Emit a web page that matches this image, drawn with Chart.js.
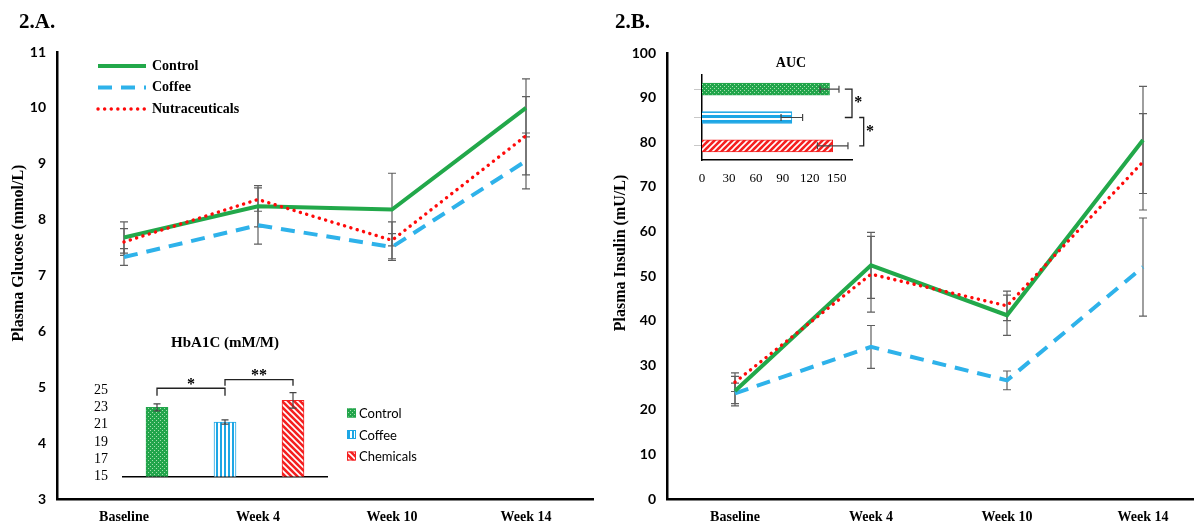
<!doctype html>
<html>
<head>
<title>Plasma glucose and insulin</title>
<script src="https://cdn.jsdelivr.net/npm/chart.js@4.4.1/dist/chart.umd.min.js"></script>
<style>
html, body { margin: 0; padding: 0; background: #fff; overflow: hidden; }
#wrap { position: relative; width: 1194px; height: 527px; overflow: hidden; }
canvas { position: absolute; }
</style>
</head>
<body>
<div id="wrap">
	<canvas id="glucose" width="600" height="527" style="left:0;top:0"></canvas>
	<canvas id="insulin" width="620" height="527" style="left:600px;top:0"></canvas>
	<canvas id="hba1c" width="400" height="180" style="left:60px;top:320px"></canvas>
	<canvas id="auc" width="240" height="160" style="left:650px;top:40px"></canvas>
</div>
<script>
// values
var weeks = ['Baseline', 'Week 4', 'Week 10', 'Week 14'];
var groups = ['Control', 'Coffee', 'Chemicals'];

var glucoseControl = [7.68, 8.24, 8.18, 10.0];
var glucoseCoffee = [7.33, 7.90, 7.51, 9.05];
var glucoseNutra = [7.60, 8.36, 7.63, 9.50];
var glucoseControlErr = [0.28, 0.37, 0.65, 0.52];
var glucoseCoffeeErr = [0.15, 0.34, 0.24, 0.50];
var glucoseNutraErr = [0.24, 0.21, 0.33, 0.70];

var insulinControl = [24.2, 52.4, 41.2, 80.5];
var insulinCoffee = [23.7, 34.1, 26.6, 52.0];
var insulinNutra = [26.2, 50.4, 43.3, 75.6];
var insulinControlErr = [3.3, 7.4, 4.5, 12.0];
var insulinCoffeeErr = [2.3, 4.8, 2.1, 11.0];
var insulinNutraErr = [2.1, 8.5, 3.3, 10.8];

var hba1c = [23.0, 21.3, 23.8];
var hba1cErr = [0.4, 0.25, 0.9];

var auc = [142, 100, 145.5];
var aucErr = [10.5, 12, 17];

var serif = "'Liberation Serif', 'Times New Roman', serif";
var sans = "Lato, 'Liberation Sans', sans-serif";
var green = '#22A84A', blue = '#2EB2EA', red = '#FF0A0A';

function makePattern(kind, fg, bg) {
	var s = kind.indexOf('diag') === 0 ? 6 : 4;
	if (kind === 'hlines') s = 5;
	var c = document.createElement('canvas');
	c.width = s; c.height = s;
	var g = c.getContext('2d');
	g.fillStyle = bg; g.fillRect(0, 0, s, s);
	g.fillStyle = fg; g.strokeStyle = fg; g.lineWidth = 1.6;
	if (kind === 'dots') { g.fillRect(0, 0, 1, 1); g.fillRect(2, 2, 1, 1); }
	else if (kind === 'vlines') g.fillRect(0, 0, 2, s);
	else if (kind === 'hlines') g.fillRect(0, 0, s, 3);
	else if (kind === 'diagDown') {
		g.beginPath();
		g.moveTo(-1, -1); g.lineTo(s + 1, s + 1);
		g.moveTo(-1, s - 1); g.lineTo(1, s + 1);
		g.moveTo(s - 1, -1); g.lineTo(s + 1, 1);
		g.stroke();
	} else if (kind === 'diagUp') {
		g.beginPath();
		g.moveTo(-1, s + 1); g.lineTo(s + 1, -1);
		g.moveTo(-1, 1); g.lineTo(1, -1);
		g.moveTo(s - 1, s + 1); g.lineTo(s + 1, s - 1);
		g.stroke();
	}
	return g.createPattern(c, 'repeat');
}

var pGreen = makePattern('dots', '#A5DFAF', '#22A54B');
var pBlueV = makePattern('vlines', '#1DA6E5', '#ffffff');
var pBlueH = makePattern('hlines', '#1DA6E5', '#ffffff');
var pRedDown = makePattern('diagDown', '#ffffff', '#F52020');
var pRedUp = makePattern('diagUp', '#ffffff', '#F52020');

// free text: panel letters, axis titles, inset titles
var texts = {
	id: 'texts',
	afterDraw: function(chart, args, opts) {
		var ctx = chart.ctx;
		(opts.items || []).forEach(function(t) {
			ctx.save();
			ctx.font = t.font;
			ctx.fillStyle = '#000';
			ctx.textAlign = t.align || 'center';
			ctx.textBaseline = 'middle';
			ctx.translate(t.x, t.y);
			if (t.rotate) ctx.rotate(t.rotate);
			ctx.fillText(t.text, 0, 0);
			ctx.restore();
		});
	}
};

function drawErrors(chart, opts) {
	var ctx = chart.ctx;
	var cap = opts.cap || 4;
	chart.data.datasets.forEach(function(ds, i) {
		if (!ds.errors) return;
		var meta = chart.getDatasetMeta(i);
		var vs = meta.vScale, horiz = vs.isHorizontal();
		ctx.save();
		ctx.strokeStyle = opts.color || '#555';
		ctx.lineWidth = opts.width || 1.2;
		meta.data.forEach(function(el, j) {
			var a = vs.getPixelForValue(ds.data[j] - ds.errors[j]);
			var b = vs.getPixelForValue(ds.data[j] + ds.errors[j]);
			var c = horiz ? el.y : el.x;
			ctx.beginPath();
			if (horiz) {
				ctx.moveTo(a, c); ctx.lineTo(b, c);
				ctx.moveTo(a, c - cap); ctx.lineTo(a, c + cap);
				ctx.moveTo(b, c - cap); ctx.lineTo(b, c + cap);
			} else {
				ctx.moveTo(c, a); ctx.lineTo(c, b);
				ctx.moveTo(c - cap, a); ctx.lineTo(c + cap, a);
				ctx.moveTo(c - cap, b); ctx.lineTo(c + cap, b);
			}
			ctx.stroke();
		});
		ctx.restore();
	});
}

var errbars = {
	id: 'errbars',
	beforeDatasetsDraw: function(chart, args, opts) { if (!opts.front) drawErrors(chart, opts); },
	afterDatasetsDraw: function(chart, args, opts) { if (opts.front) drawErrors(chart, opts); }
};

// significance brackets between categories
var brackets = {
	id: 'brackets',
	afterDraw: function(chart, args, opts) {
		if (!opts.items) return;
		var ctx = chart.ctx;
		var meta = chart.getDatasetMeta(0);
		var is = meta.iScale, vs = meta.vScale, horiz = vs.isHorizontal();
		function pt(i, v) { return horiz ? [v, i] : [i, v]; }
		ctx.save();
		ctx.strokeStyle = '#222';
		ctx.lineWidth = 1.3;
		ctx.fillStyle = '#000';
		ctx.font = 'bold 16px ' + serif;
		ctx.textAlign = 'center';
		ctx.textBaseline = 'middle';
		opts.items.forEach(function(b) {
			var p1 = is.getPixelForValue(b.from), p2 = is.getPixelForValue(b.to);
			var v = vs.getPixelForValue(b.at), d = vs.getPixelForValue(b.at - b.drop);
			var q;
			ctx.beginPath();
			q = pt(p1, d); ctx.moveTo(q[0], q[1]);
			q = pt(p1, v); ctx.lineTo(q[0], q[1]);
			q = pt(p2, v); ctx.lineTo(q[0], q[1]);
			q = pt(p2, d); ctx.lineTo(q[0], q[1]);
			ctx.stroke();
			q = pt((p1 + p2) / 2, vs.getPixelForValue(b.labelAt));
			ctx.fillText(b.label, q[0], q[1]);
		});
		ctx.restore();
	}
};

// legend with line samples drawn inside the plot
var lineLegend = {
	id: 'lineLegend',
	afterDraw: function(chart, args, opts) {
		if (!opts.x) return;
		var ctx = chart.ctx;
		chart.data.datasets.forEach(function(ds, i) {
			var y = opts.y + i * opts.gap;
			ctx.save();
			ctx.strokeStyle = ds.borderColor;
			ctx.lineWidth = ds.borderWidth;
			ctx.lineCap = ds.borderCapStyle || 'butt';
			ctx.setLineDash(ds.borderDash || []);
			ctx.beginPath();
			ctx.moveTo(opts.x, y); ctx.lineTo(opts.x + opts.len, y);
			ctx.stroke();
			ctx.restore();
			ctx.save();
			ctx.font = opts.font;
			ctx.fillStyle = '#000';
			ctx.textBaseline = 'middle';
			ctx.fillText(ds.label, opts.x + opts.len + 6, y);
			ctx.restore();
		});
	}
};

// legend with patterned boxes for a single bar dataset
var boxLegend = {
	id: 'boxLegend',
	afterDraw: function(chart, args, opts) {
		if (!opts.x) return;
		var ctx = chart.ctx;
		var ds = chart.data.datasets[0];
		chart.data.labels.forEach(function(lab, i) {
			var y = opts.y + i * opts.gap;
			ctx.save();
			ctx.fillStyle = ds.backgroundColor[i];
			ctx.fillRect(opts.x, y - 4.5, 9, 9);
			ctx.strokeStyle = ds.borderColor[i];
			ctx.lineWidth = 1;
			ctx.strokeRect(opts.x + 0.5, y - 4, 8, 8);
			ctx.font = opts.font;
			ctx.fillStyle = '#000';
			ctx.textBaseline = 'middle';
			ctx.fillText(lab, opts.x + 12, y + 1);
			ctx.restore();
		});
	}
};

function lineSet(label, data, errors, color, width, dash, order) {
	return {
		label: label, data: data, errors: errors,
		borderColor: color, borderWidth: width, borderDash: dash,
		borderCapStyle: dash.length && dash[0] < 1 ? 'round' : 'butt',
		pointRadius: 0, tension: 0, fill: false, order: order
	};
}

function mainOptions(min, max, step, padTop, padRight, yWidth, texts) {
	return {
		responsive: false,
		animation: false,
		layout: { padding: { top: padTop, right: padRight, left: 0, bottom: 0 } },
		scales: {
			x: {
				offset: true,
				grid: { display: false, drawTicks: false },
				border: { color: '#000', width: 2.5 },
				ticks: { color: '#000', padding: 10, font: { family: serif, size: 14, weight: 'bold' } },
				afterFit: function(s) { s.height = 28; }
			},
			y: {
				min: min, max: max,
				grid: { display: false, drawTicks: false },
				border: { color: '#000', width: 2.5 },
				ticks: { stepSize: step, color: '#000', padding: 11, font: { family: sans, size: 14, weight: 'bold' } },
				afterFit: function(s) { s.width = yWidth; }
			}
		},
		plugins: {
			legend: { display: false },
			tooltip: { enabled: false },
			errbars: { color: '#5f5f5f', width: 1.2, cap: 4 },
			texts: { items: texts }
		}
	};
}

// 2.A glucose
var optA = mainOptions(3, 11, 1, 52, 7, 57, [
	{ text: '2.A.', x: 19, y: 23, align: 'left', font: 'bold 21px ' + serif },
	{ text: 'Plasma Glucose (mmol/L)', x: 19, y: 253, rotate: -Math.PI / 2, font: 'bold 16px ' + serif }
]);
optA.plugins.lineLegend = { x: 98, y: 66, gap: 21.5, len: 48, font: 'bold 14px ' + serif };
new Chart(document.getElementById('glucose'), {
	type: 'line',
	data: {
		labels: weeks,
		datasets: [
			lineSet('Control', glucoseControl, glucoseControlErr, green, 4, [], 1),
			lineSet('Coffee', glucoseCoffee, glucoseCoffeeErr, blue, 4, [14, 9], 2),
			lineSet('Nutraceuticals', glucoseNutra, glucoseNutraErr, red, 3.4, [0.1, 6.5], 0)
		]
	},
	options: optA,
	plugins: [errbars, lineLegend, texts]
});

// 2.B insulin
var optB = mainOptions(0, 100, 10, 53, 9, 67, [
	{ text: '2.B.', x: 15, y: 23, align: 'left', font: 'bold 21px ' + serif },
	{ text: 'Plasma Insulin (mU/L)', x: 21, y: 253, rotate: -Math.PI / 2, font: 'bold 16px ' + serif }
]);
new Chart(document.getElementById('insulin'), {
	type: 'line',
	data: {
		labels: weeks,
		datasets: [
			lineSet('Control', insulinControl, insulinControlErr, green, 4, [], 1),
			lineSet('Coffee', insulinCoffee, insulinCoffeeErr, blue, 4, [14, 9], 2),
			lineSet('Nutraceuticals', insulinNutra, insulinNutraErr, red, 3.4, [0.1, 6.5], 0)
		]
	},
	options: optB,
	plugins: [errbars, texts]
});

// HbA1C inset
new Chart(document.getElementById('hba1c'), {
	type: 'bar',
	data: {
		labels: groups,
		datasets: [{
			data: hba1c, errors: hba1cErr,
			backgroundColor: [pGreen, pBlueV, pRedDown],
			borderColor: ['#22A54B', '#1DA6E5', '#F52020'],
			borderWidth: 1, barThickness: 22
		}]
	},
	options: {
		responsive: false,
		animation: false,
		layout: { padding: { top: 70, right: 133, left: 0, bottom: 0 } },
		scales: {
			x: {
				grid: { display: false, drawTicks: false },
				ticks: { display: false },
				border: { color: '#000', width: 1.5 },
				afterFit: function(s) { s.height = 18; }
			},
			y: {
				min: 15, max: 25,
				grid: { display: false, drawTicks: false },
				border: { display: false },
				ticks: { stepSize: 2, color: '#000', padding: 15, font: { family: serif, size: 14 } },
				afterFit: function(s) { s.width = 63; }
			}
		},
		plugins: {
			legend: { display: false },
			tooltip: { enabled: false },
			errbars: { front: true, color: '#444', width: 1.2, cap: 3.5 },
			brackets: { items: [
				{ from: 0, to: 1, at: 25.2, drop: 0.85, label: '*', labelAt: 25.6 },
				{ from: 1, to: 2, at: 26.2, drop: 0.7, label: '**', labelAt: 26.6 }
			] },
			boxLegend: { x: 287, y: 93, gap: 21.5, font: '13px ' + sans },
			texts: { items: [
				{ text: 'HbA1C (mM/M)', x: 165, y: 23, font: 'bold 15px ' + serif }
			] }
		}
	},
	plugins: [errbars, brackets, boxLegend, texts]
});

// AUC inset
new Chart(document.getElementById('auc'), {
	type: 'bar',
	data: {
		labels: groups,
		datasets: [{
			data: auc, errors: aucErr,
			backgroundColor: [pGreen, pBlueH, pRedUp],
			borderColor: ['#22A54B', '#1DA6E5', '#F52020'],
			borderWidth: 1, barThickness: 12
		}]
	},
	options: {
		indexAxis: 'y',
		responsive: false,
		animation: false,
		layout: { padding: { top: 35, right: 38, left: 0, bottom: 0 } },
		scales: {
			x: {
				min: 0, max: 167,
				grid: { display: false, drawTicks: false },
				border: { color: '#000', width: 1.5 },
				ticks: { stepSize: 30, includeBounds: false, color: '#000', padding: 11, font: { family: serif, size: 13 } },
				afterFit: function(s) { s.height = 40; }
			},
			y: {
				grid: { display: true, drawOnChartArea: false, offset: false, tickLength: 8, color: '#c8c8c8' },
				border: { color: '#000', width: 1.5 },
				ticks: { display: false },
				afterFit: function(s) { s.width = 52; }
			}
		},
		plugins: {
			legend: { display: false },
			tooltip: { enabled: false },
			errbars: { front: true, color: '#444', width: 1.2, cap: 3.5 },
			brackets: { items: [
				{ from: 0, to: 1, at: 167, drop: 8, label: '*', labelAt: 174 },
				{ from: 1, to: 2, at: 180, drop: 5, label: '*', labelAt: 187 }
			] },
			texts: { items: [
				{ text: 'AUC', x: 141, y: 23, font: 'bold 14px ' + serif }
			] }
		}
	},
	plugins: [errbars, brackets, texts]
});
</script>
</body>
</html>
